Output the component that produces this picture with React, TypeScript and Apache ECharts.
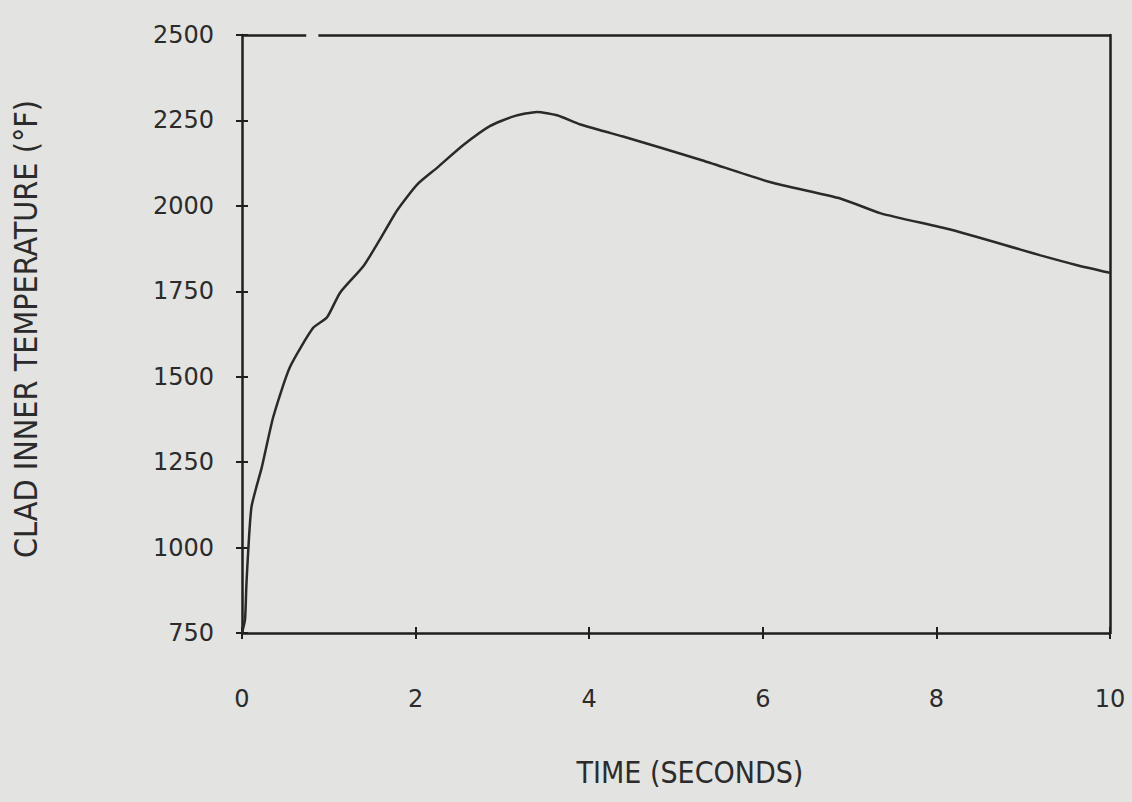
import React, { useEffect, useRef } from "react";
import * as echarts from "echarts";

const timeSec = [0, 0.035, 0.05, 0.07, 0.11, 0.23, 0.36, 0.55, 0.82, 0.98, 1.13, 1.4, 1.59, 1.79, 2.02, 2.25, 2.55, 2.86, 3.13, 3.4, 3.63, 3.9, 4.16, 4.39, 5.28, 6.09, 6.9, 7.36, 8.17, 8.97, 9.2, 9.61, 10];
const cladTemp = [750, 790, 887, 983, 1120, 1237, 1382, 1527, 1643, 1674, 1746, 1824, 1902, 1988, 2063, 2112, 2178, 2234, 2262, 2275, 2265, 2238, 2219, 2203, 2135, 2069, 2021, 1978, 1930, 1872, 1855, 1827, 1804];
const xTitle = "TIME (SECONDS)";
const yTitle = "CLAD INNER TEMPERATURE (°F)";
const topFrameSegments = [[0, 0.74], [0.88, 10]];

const INK = "#1f1f1f";
const TXT = "#2b2b2b";
const COND = "'DejaVu Sans Condensed', 'DejaVu Sans', sans-serif";
const FONT = "'DejaVu Sans', sans-serif";

export default function App() {
  const ref = useRef<HTMLDivElement>(null);
  useEffect(() => {
    document.body.style.margin = "0";
    document.body.style.background = "#e3e3e1";
    const chart = echarts.init(ref.current!, null, { renderer: "svg" });
    const data = timeSec.map((t, i) => [t, cladTemp[i]]);
    const baseX = { type: "value", min: 0, max: 10, interval: 2, gridIndex: 0, position: "bottom", splitLine: { show: false } } as any;
    const baseY = { type: "value", min: 750, max: 2500, interval: 250, gridIndex: 0, splitLine: { show: false } } as any;
    chart.setOption({
      animation: false,
      backgroundColor: "#e3e3e1",
      grid: { left: 242, right: 22, top: 35, bottom: 169, containLabel: false },
      xAxis: [
        {
          ...baseX,
          axisLine: { show: true, onZero: false, lineStyle: { color: INK, width: 2.5 } },
          axisTick: { show: true, inside: true, length: 6, lineStyle: { color: INK, width: 2 } },
          axisLabel: { margin: 54, fontSize: 24, color: TXT, fontFamily: FONT, formatter: (v: number) => String(v) },
          name: xTitle,
          nameLocation: "middle",
          nameGap: 124,
          nameTextStyle: { fontSize: 30, color: TXT, fontFamily: COND, padding: [0, 0, 0, 28] },
        },
        {
          ...baseX,
          axisLine: { show: false },
          axisTick: { show: true, inside: false, length: 6, lineStyle: { color: INK, width: 2 } },
          axisLabel: { show: false },
        },
      ],
      yAxis: [
        {
          ...baseY,
          position: "left",
          axisLine: { show: true, onZero: false, lineStyle: { color: INK, width: 2.5 } },
          axisTick: { show: true, inside: true, length: 6, lineStyle: { color: INK, width: 2 } },
          axisLabel: { margin: 28, fontSize: 24, color: TXT, fontFamily: FONT, formatter: (v: number) => String(v) },
          name: yTitle,
          nameLocation: "middle",
          nameGap: 200,
          nameTextStyle: { fontSize: 32, color: TXT, fontFamily: COND, padding: [0, 0, 0, 10] },
        },
        {
          ...baseY,
          position: "left",
          axisLine: { show: false },
          axisTick: { show: true, inside: false, length: 6, lineStyle: { color: INK, width: 2 } },
          axisLabel: { show: false },
        },
        {
          ...baseY,
          position: "right",
          axisLine: { show: true, onZero: false, lineStyle: { color: INK, width: 2.5 } },
          axisTick: { show: false },
          axisLabel: { show: false },
        },
      ],
      series: [
        {
          type: "line",
          xAxisIndex: 0,
          yAxisIndex: 0,
          data,
          showSymbol: false,
          smooth: 0.2,
          lineStyle: { color: "#2a2a2a", width: 2.5 },
          markLine: {
            silent: true,
            symbol: "none",
            label: { show: false },
            lineStyle: { color: INK, width: 2.5, type: "solid" },
            data: topFrameSegments.map(([a, b]) => [{ coord: [a, 2500] }, { coord: [b, 2500] }]),
          },
        },
      ],
    });
    return () => chart.dispose();
  }, []);
  return <div ref={ref} style={{ position: "fixed", left: 0, top: 0, width: 1132, height: 802 }} />;
}
